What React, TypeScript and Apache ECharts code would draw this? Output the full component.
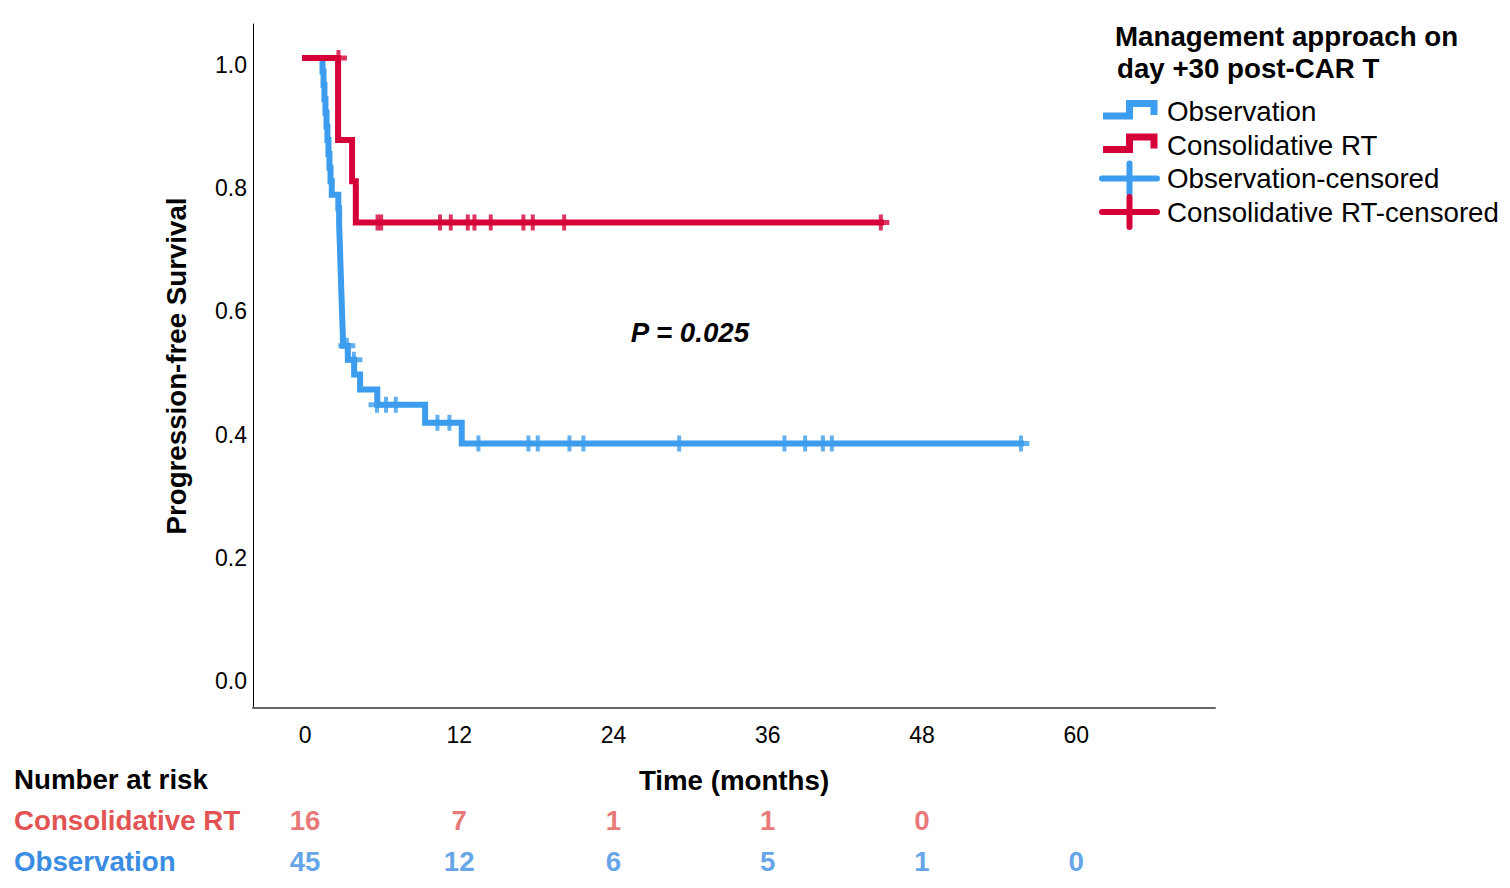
import React, { useEffect, useRef } from "react";
import * as echarts from "echarts";

const FONT = "'Liberation Sans', Arial, Helvetica, sans-serif";
const BLUE = "#3c9cee";
const RED = "#d50037";
const BLUE_TEXT = "#3a8de2";
const RED_TEXT = "#e25454";
const FS = 27.7;

// Kaplan-Meier step data (time in months, survival proportion)
const obsTimes = [0, 1.3, 1.36, 1.44, 1.51, 1.59, 1.67, 1.74, 1.82, 1.9, 1.98, 2.08, 2.59, 2.65, 2.68, 2.72, 2.75, 2.79, 2.82, 2.86, 2.89, 2.93, 2.96, 3.33, 3.82, 4.28, 5.62, 9.34, 12.19, 55.7];
const obsSurv = [1.0, 1.0, 0.978, 0.956, 0.933, 0.911, 0.889, 0.867, 0.844, 0.822, 0.8, 0.778, 0.756, 0.733, 0.711, 0.689, 0.667, 0.644, 0.622, 0.6, 0.578, 0.556, 0.533, 0.51, 0.486, 0.462, 0.437, 0.408, 0.374, 0.374];
const obsCensTimes = [3.25, 3.8, 5.6, 6.3, 7.06, 10.3, 11.23, 13.49, 17.38, 18.11, 20.57, 21.66, 29.11, 37.3, 38.91, 40.29, 40.99, 55.7];
const obsCensSurv = [0.533, 0.51, 0.437, 0.437, 0.437, 0.408, 0.408, 0.374, 0.374, 0.374, 0.374, 0.374, 0.374, 0.374, 0.374, 0.374, 0.374, 0.374];

const crtTimes = [0, 2.57, 3.66, 3.95, 44.8];
const crtSurv = [1.0, 0.867, 0.8, 0.733, 0.733];
const crtCensTimes = [2.6, 5.64, 5.92, 10.5, 11.34, 12.66, 13.18, 14.45, 16.99, 17.72, 20.16, 44.8];
const crtCensSurv = [1.0, 0.733, 0.733, 0.733, 0.733, 0.733, 0.733, 0.733, 0.733, 0.733, 0.733, 0.733];

// Axis ticks
const xTicks = [0, 12, 24, 36, 48, 60];
const yTicks = [0, 0.2, 0.4, 0.6, 0.8, 1.0];

// Number at risk
const riskRows = ["Observation", "Consolidative RT"];
const crtRiskTimes = [0, 12, 24, 36, 48];
const crtRisk = [16, 7, 1, 1, 0];
const obsRiskTimes = [0, 12, 24, 36, 48, 60];
const obsRisk = [45, 12, 6, 5, 1, 0];

const legendNames = ["Observation", "Consolidative RT", "Observation-censored", "Consolidative RT-censored"];
const legendColors = [BLUE, RED, BLUE, RED];

const PLUS = "path://M0,5.5H6.5V0H10.5V5.5H17V10.5H10.5V16H6.5V10.5H0Z";

const X_MIN = -4.05;
const X_MAX = 70.8;
const Y_MIN = -0.0552;
const Y_MAX = 1.0552;

function zip(a: number[], b: number[]) {
  return a.map((v, i) => [v, b[i]]);
}

function buildLegend() {
  const els: any[] = [];
  els.push({
    type: "text",
    x: 1115,
    y: 36,
    style: { text: "Management approach on", fontFamily: FONT, fontSize: FS, fontWeight: "bold", fill: "#000", align: "left", verticalAlign: "middle" },
  });
  els.push({
    type: "text",
    x: 1117,
    y: 68,
    style: { text: "day +30 post-CAR T", fontFamily: FONT, fontSize: FS, fontWeight: "bold", fill: "#000", align: "left", verticalAlign: "middle" },
  });
  const rowY = [111.5, 145, 178.5, 212];
  legendNames.forEach((name, i) => {
    const y = rowY[i];
    const color = legendColors[i];
    if (i < 2) {
      els.push({
        type: "polyline",
        shape: {
          points: [
            [1103, y + 4.5],
            [1129.5, y + 4.5],
            [1129.5, y - 8],
            [1154, y - 8],
            [1154, y + 3.5],
          ],
        },
        style: { stroke: color, lineWidth: 7, fill: null, lineJoin: "miter", lineCap: "butt" },
      });
    } else {
      els.push({
        type: "line",
        shape: { x1: 1102, y1: y, x2: 1157, y2: y },
        style: { stroke: color, lineWidth: 6, lineCap: "round" },
      });
      els.push({
        type: "line",
        shape: { x1: 1129.5, y1: y - 15, x2: 1129.5, y2: y + 15 },
        style: { stroke: color, lineWidth: 6, lineCap: "round" },
      });
    }
    els.push({
      type: "text",
      x: 1167,
      y,
      style: { text: name, fontFamily: FONT, fontSize: FS, fill: "#000", align: "left", verticalAlign: "middle" },
    });
  });
  return els;
}

export default function App() {
  const ref = useRef<HTMLDivElement>(null);
  useEffect(() => {
    document.body.style.margin = "0";
    const chart = echarts.init(ref.current!, null, { renderer: "svg" });
    const option: any = {
      animation: false,
      backgroundColor: "#fff",
      textStyle: { fontFamily: FONT },
      grid: [
        { left: 253, right: 295, top: 24, bottom: 180 },
        { left: 253, right: 295, top: 800, height: 82 },
      ],
      xAxis: [
        {
          type: "value",
          gridIndex: 0,
          min: X_MIN,
          max: X_MAX,
          axisLine: { show: true, onZero: false, lineStyle: { color: "#666", width: 2 } },
          axisTick: { show: false },
          splitLine: { show: false },
          axisLabel: {
            customValues: xTicks,
            formatter: (v: number) => (Math.abs(v / 12 - Math.round(v / 12)) < 1e-6 ? String(Math.round(v)) : ""),
            fontFamily: FONT,
            fontSize: 23,
            color: "#000",
            margin: 15,
          },
          name: "Time (months)",
          nameLocation: "middle",
          nameGap: 58,
          nameTextStyle: { fontFamily: FONT, fontSize: FS, fontWeight: "bold", color: "#000" },
        },
        { type: "value", gridIndex: 1, min: X_MIN, max: X_MAX, show: false },
      ],
      yAxis: [
        {
          type: "value",
          gridIndex: 0,
          min: Y_MIN,
          max: Y_MAX,
          axisLine: { show: true, onZero: false, lineStyle: { color: "#000", width: 1 } },
          axisTick: { show: false },
          splitLine: { show: false },
          axisLabel: {
            customValues: yTicks,
            formatter: (v: number) => (Math.abs(v * 5 - Math.round(v * 5)) < 1e-6 ? v.toFixed(1) : ""),
            fontFamily: FONT,
            fontSize: 23,
            color: "#000",
            margin: 6,
            verticalAlign: "top",
            lineHeight: 14,
          },
          name: "Progression-free Survival",
          nameLocation: "middle",
          nameGap: 63,
          nameTextStyle: { fontFamily: FONT, fontSize: FS, fontWeight: "bold", color: "#000" },
        },
        {
          type: "category",
          gridIndex: 1,
          data: riskRows,
          axisLine: { show: false },
          axisTick: { show: false },
          splitLine: { show: false },
          axisLabel: {
            align: "left",
            margin: 239,
            formatter: (v: string) => (v === "Observation" ? `{b|${v}}` : `{r|${v}}`),
            rich: {
              b: { color: BLUE_TEXT, fontFamily: FONT, fontSize: FS, fontWeight: "bold" },
              r: { color: RED_TEXT, fontFamily: FONT, fontSize: FS, fontWeight: "bold" },
            },
          },
        },
      ],
      graphic: [
        {
          type: "text",
          x: 14,
          y: 779,
          style: { text: "Number at risk", fontFamily: FONT, fontSize: FS, fontWeight: "bold", fill: "#000", align: "left", verticalAlign: "middle" },
        },
        {
          type: "text",
          x: 690,
          y: 332,
          style: { text: "P = 0.025", fontFamily: FONT, fontSize: FS, fontWeight: "bold", fontStyle: "italic", fill: "#000", align: "center", verticalAlign: "middle" },
        },
        ...buildLegend(),
      ],
      series: [
        {
          name: "Observation",
          type: "line",
          step: "end",
          xAxisIndex: 0,
          yAxisIndex: 0,
          data: zip(obsTimes, obsSurv),
          showSymbol: false,
          lineStyle: { color: BLUE, width: 6, cap: "square", join: "miter" },
          z: 2,
        },
        {
          name: "Observation-censored",
          type: "scatter",
          xAxisIndex: 0,
          yAxisIndex: 0,
          data: zip(obsCensTimes, obsCensSurv),
          symbol: PLUS,
          symbolSize: [17, 16],
          itemStyle: { color: BLUE },
          z: 3,
        },
        {
          name: "Consolidative RT",
          type: "line",
          step: "end",
          xAxisIndex: 0,
          yAxisIndex: 0,
          data: zip(crtTimes, crtSurv),
          showSymbol: false,
          lineStyle: { color: RED, width: 6, cap: "square", join: "miter" },
          z: 4,
        },
        {
          name: "Consolidative RT-censored",
          type: "scatter",
          xAxisIndex: 0,
          yAxisIndex: 0,
          data: zip(crtCensTimes, crtCensSurv),
          symbol: PLUS,
          symbolSize: [17, 16],
          itemStyle: { color: RED },
          z: 5,
        },
        {
          name: "Consolidative RT at risk",
          type: "scatter",
          xAxisIndex: 1,
          yAxisIndex: 1,
          data: crtRiskTimes.map((t, i) => [t, "Consolidative RT", crtRisk[i]]),
          symbolSize: 1,
          itemStyle: { color: "transparent" },
          label: {
            show: true,
            position: "inside",
            formatter: (p: any) => String(p.value[2]),
            color: RED_TEXT,
            fontFamily: FONT,
            fontSize: FS,
            fontWeight: "bold",
          },
        },
        {
          name: "Observation at risk",
          type: "scatter",
          xAxisIndex: 1,
          yAxisIndex: 1,
          data: obsRiskTimes.map((t, i) => [t, "Observation", obsRisk[i]]),
          symbolSize: 1,
          itemStyle: { color: "transparent" },
          label: {
            show: true,
            position: "inside",
            formatter: (p: any) => String(p.value[2]),
            color: BLUE_TEXT,
            fontFamily: FONT,
            fontSize: FS,
            fontWeight: "bold",
          },
        },
      ],
    };
    chart.setOption(option);
    return () => chart.dispose();
  }, []);
  return <div ref={ref} style={{ width: 1510, height: 888 }} />;
}
